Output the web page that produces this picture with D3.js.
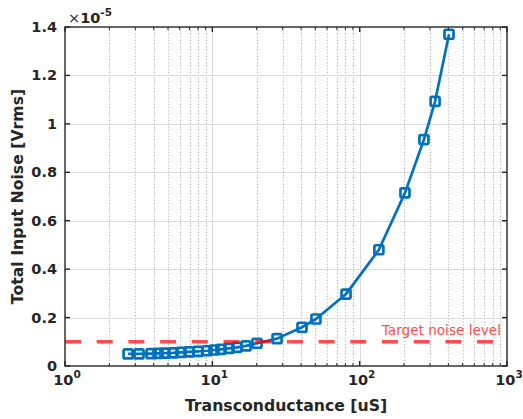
<!DOCTYPE html>
<html>
<head>
<meta charset="utf-8">
<script src="https://cdn.jsdelivr.net/npm/d3@7"></script>
<style>
  body { margin: 0; background: #fff; }
  svg { display: block; }
  text { font-family: "DejaVu Sans", sans-serif; }
</style>
</head>
<body>
<svg id="chart" width="523" height="419"></svg>
<script>
// Transconductance sweep [uS]
const gm = [2.68, 3.18, 3.84, 4.28, 4.77, 5.41, 6.13, 6.94, 7.99, 9.2, 10.26, 11.45, 12.98,
            14.7, 16.93, 20.1, 27.5, 40.6, 50.5, 80.8, 135, 203, 273, 325, 404];
// Total input noise, in units of 1e-5 Vrms
const noise = [0.05, 0.05, 0.051, 0.052, 0.053, 0.054, 0.056, 0.058, 0.06, 0.063, 0.066, 0.069, 0.073,
               0.077, 0.083, 0.094, 0.113, 0.16, 0.194, 0.297, 0.48, 0.715, 0.935, 1.093, 1.37];
// Noise target, same units
const targetNoise = 0.1;
const targetLabel = "Target noise level";

const yTicks = [0, 0.2, 0.4, 0.6, 0.8, 1, 1.2, 1.4];
const yTickLabels = ["0", "0.2", "0.4", "0.6", "0.8", "1", "1.2", "1.4"];
const xTicks = [1, 10, 100, 1000];
const xTickExponents = ["0", "1", "2", "3"];
const xLabel = "Transconductance [uS]";
const yLabel = "Total Input Noise [Vrms]";
const yExponent = "-5";

const W = 523, H = 419;
const L = 65, R = 507, T = 27, B = 366;
const axisColor = "#262626";
const blue = "#0072BD";

const svg = d3.select("#chart");
const x = d3.scaleLog().domain([1, 1000]).range([L, R]);
const y = d3.scaleLinear().domain([0, 1.4]).range([B, T]);

// minor decade positions
const minor = [];
for (let d = 1; d < 1000; d *= 10) for (let k = 2; k <= 9; k++) minor.push(d * k);

const grid = svg.append("g");
grid.selectAll("line.minor").data(minor).join("line")
  .attr("x1", d => Math.round(x(d)) + 0.5).attr("x2", d => Math.round(x(d)) + 0.5)
  .attr("y1", T).attr("y2", B)
  .attr("stroke", "#b8b8b8").attr("stroke-width", 1).attr("stroke-dasharray", "1.2,2");
grid.selectAll("line.vmaj").data(xTicks.slice(1, -1)).join("line")
  .attr("x1", d => Math.round(x(d)) + 0.5).attr("x2", d => Math.round(x(d)) + 0.5)
  .attr("y1", T).attr("y2", B)
  .attr("stroke", "#dcdcdc").attr("stroke-width", 1.2);
grid.selectAll("line.hmaj").data(yTicks.slice(1, -1)).join("line")
  .attr("x1", L).attr("x2", R)
  .attr("y1", d => Math.round(y(d)) + 0.5).attr("y2", d => Math.round(y(d)) + 0.5)
  .attr("stroke", "#dcdcdc").attr("stroke-width", 1.2);

// data curve
const pts = gm.map((g, i) => [g, noise[i]]);
const line = d3.line().x(d => x(d[0])).y(d => y(d[1]));
svg.append("path").datum(pts).attr("d", line)
  .attr("fill", "none").attr("stroke", blue).attr("stroke-width", 2.7)
  .attr("stroke-linejoin", "round");
svg.append("g").selectAll("rect").data(pts).join("rect")
  .attr("x", d => x(d[0]) - 4.5).attr("y", d => y(d[1]) - 4.5)
  .attr("width", 9).attr("height", 9).attr("rx", 1.5)
  .attr("fill", "none").attr("stroke", blue).attr("stroke-width", 2.7);

// target level
svg.append("line")
  .attr("x1", L).attr("x2", R).attr("y1", y(targetNoise)).attr("y2", y(targetNoise))
  .attr("stroke", "#ff0000").attr("stroke-opacity", 0.7).attr("stroke-width", 3.5)
  .attr("stroke-dasharray", "16,15.7");
svg.append("text").attr("x", 501).attr("y", y(targetNoise) - 7)
  .attr("text-anchor", "end").attr("font-size", 13.6).attr("fill", "#ff4d4d")
  .text(targetLabel);

// axes box and ticks
const ax = svg.append("g").attr("stroke", axisColor).attr("stroke-width", 1.4).attr("fill", "none");
ax.append("rect").attr("x", L).attr("y", T).attr("width", R - L).attr("height", B - T);
ax.selectAll("line.yt").data(yTicks).join("line")
  .attr("x1", L).attr("x2", L + 5).attr("y1", d => y(d)).attr("y2", d => y(d));
ax.selectAll("line.yt2").data(yTicks).join("line")
  .attr("x1", R).attr("x2", R - 5).attr("y1", d => y(d)).attr("y2", d => y(d));
ax.selectAll("line.xt").data(xTicks).join("line")
  .attr("x1", d => x(d)).attr("x2", d => x(d)).attr("y1", B).attr("y2", B - 5);
ax.selectAll("line.xt2").data(xTicks).join("line")
  .attr("x1", d => x(d)).attr("x2", d => x(d)).attr("y1", T).attr("y2", T + 5);
ax.selectAll("line.xm").data(minor).join("line")
  .attr("x1", d => x(d)).attr("x2", d => x(d)).attr("y1", B).attr("y2", B - 3).attr("stroke-width", 1);
ax.selectAll("line.xm2").data(minor).join("line")
  .attr("x1", d => x(d)).attr("x2", d => x(d)).attr("y1", T).attr("y2", T + 3).attr("stroke-width", 1);

// tick labels
svg.append("g").selectAll("text").data(yTicks).join("text")
  .attr("x", 57).attr("y", d => y(d) + 5).attr("text-anchor", "end")
  .attr("font-size", 14.5).attr("font-weight", "bold").attr("fill", axisColor)
  .text((d, i) => yTickLabels[i]);

const xl = svg.append("g").selectAll("text").data(xTicks).join("text")
  .attr("x", d => x(d) + 2).attr("y", 385).attr("text-anchor", "middle")
  .attr("font-size", 14.5).attr("font-weight", "bold").attr("fill", axisColor);
xl.append("tspan").text("10");
xl.append("tspan").attr("dy", -7).attr("font-size", 10.5).text((d, i) => xTickExponents[i]);

// exponent marker
const ex = svg.append("text").attr("x", 68).attr("y", 23).attr("fill", axisColor).attr("font-size", 14.5);
ex.append("tspan").attr("font-weight", "normal").text("\u00d7");
ex.append("tspan").attr("font-weight", "bold").text("10");
ex.append("tspan").attr("font-weight", "bold").attr("dy", -7).attr("font-size", 10.5).text(yExponent);

// axis titles
svg.append("text").attr("x", (L + R) / 2).attr("y", 411).attr("text-anchor", "middle")
  .attr("font-size", 15.7).attr("font-weight", "bold").attr("fill", axisColor).text(xLabel);
svg.append("text").attr("transform", `translate(23,${(T + B) / 2}) rotate(-90)`)
  .attr("text-anchor", "middle")
  .attr("font-size", 15.7).attr("font-weight", "bold").attr("fill", axisColor).text(yLabel);
</script>
</body>
</html>
